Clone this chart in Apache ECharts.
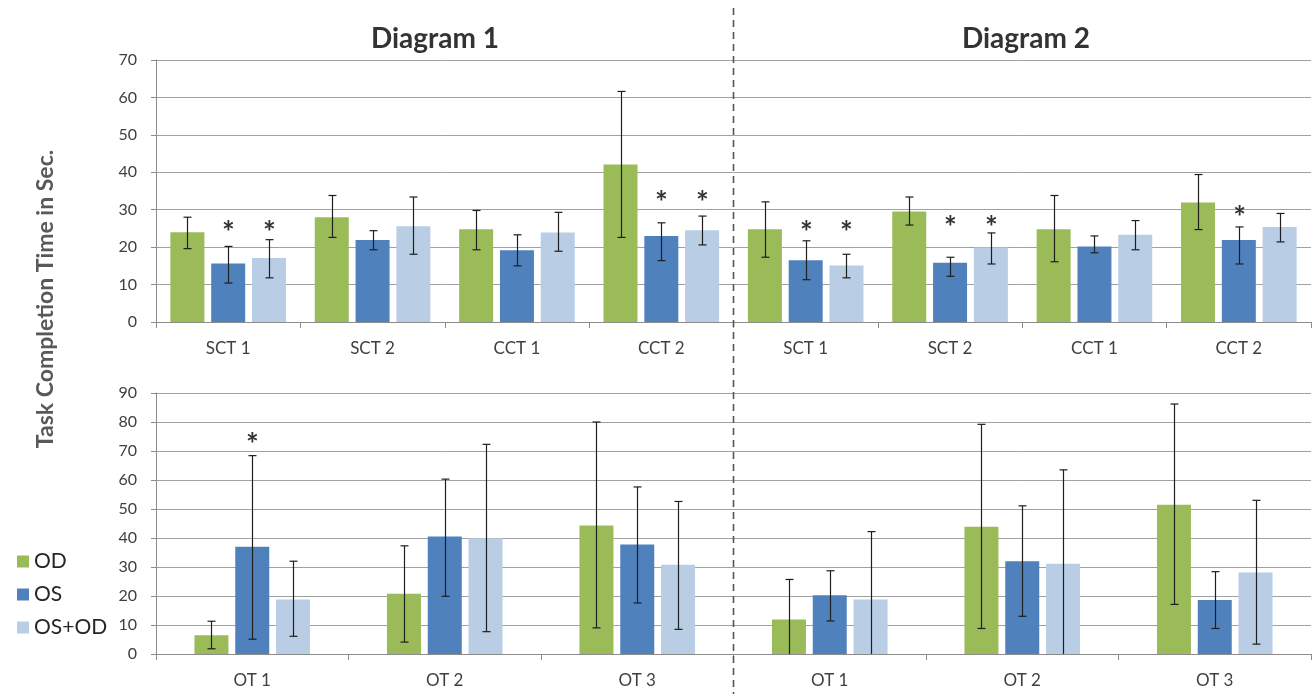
<!DOCTYPE html>
<html>
<head>
<meta charset="utf-8">
<script src="https://cdn.jsdelivr.net/npm/echarts@6/dist/echarts.min.js"></script>
<style>
html,body{margin:0;padding:0;background:#fff;}
#chart{width:1315px;height:696px;}
</style>
</head>
<body>
<div id="chart"></div>
<script>
// ---------- DATA ----------
const seriesNames = ['OD', 'OS', 'OS+OD'];
const seriesColors = ['#9BBB59', '#4F81BD', '#B9CDE5'];

const topCategories = ['SCT 1', 'SCT 2', 'CCT 1', 'CCT 2', 'SCT 1', 'SCT 2', 'CCT 1', 'CCT 2'];
const topYTicks = [0, 10, 20, 30, 40, 50, 60, 70];
const topOD      = [24.0, 28.0, 24.8, 42.1, 24.8, 29.5, 24.8, 31.9];
const topODHigh  = [28.0, 33.8, 29.8, 61.6, 32.1, 33.4, 33.8, 39.4];
const topODLow   = [19.6, 22.6, 19.3, 22.6, 17.3, 25.9, 16.1, 24.7];
const topOS      = [15.6, 21.9, 19.2, 23.0, 16.5, 15.8, 20.2, 21.9];
const topOSHigh  = [20.2, 24.4, 23.3, 26.5, 21.7, 17.3, 23.0, 25.4];
const topOSLow   = [10.4, 19.3, 15.0, 16.4, 11.3, 12.2, 18.5, 15.5];
const topOSOD     = [17.1, 25.6, 23.9, 24.5, 15.1, 19.9, 23.3, 25.4];
const topOSODHigh = [22.0, 33.4, 29.3, 28.3, 18.1, 23.8, 27.1, 29.0];
const topOSODLow  = [11.8, 18.1, 18.9, 20.6, 11.8, 15.5, 19.3, 21.4];
// significance marks (asterisk height in data units, null = none)
const topODStar   = [null, null, null, null, null, null, null, null];
const topOSStar   = [25.5, null, null, 33.5, 25.5, 27.0, null, 29.5];
const topOSODStar = [25.5, null, null, 33.5, 25.5, 27.0, null, null];

const botCategories = ['OT 1', 'OT 2', 'OT 3', 'OT 1', 'OT 2', 'OT 3'];
const botYTicks = [0, 10, 20, 30, 40, 50, 60, 70, 80, 90];
const botOD      = [6.5, 20.8, 44.3, 11.9, 43.9, 51.5];
const botODHigh  = [11.3, 37.3, 80.0, 25.7, 79.2, 86.2];
const botODLow   = [1.8, 4.1, 9.0, 0, 8.8, 17.1];
const botOS      = [37.0, 40.5, 37.8, 20.3, 32.0, 18.6];
const botOSHigh  = [68.4, 60.3, 57.6, 28.7, 51.1, 28.4];
const botOSLow   = [5.1, 19.9, 17.6, 11.4, 13.0, 8.8];
const botOSOD     = [18.8, 39.9, 30.8, 18.8, 31.1, 28.1];
const botOSODHigh = [32.0, 72.3, 52.6, 42.2, 63.5, 53.0];
const botOSODLow  = [6.1, 7.7, 8.5, 0, 0, 3.4];
const botODStar   = [null, null, null, null, null, null];
const botOSStar   = [74.3, null, null, null, null, null];
const botOSODStar = [null, null, null, null, null, null];

const diagramTitles = ['Diagram 1', 'Diagram 2'];
const yAxisTitle = 'Task Completion Time in Sec.';

// ---------- CHART ----------
const FONT = 'Lato';
const BAR_W = 34;
const BAR_GAP = 0.2;
const chart = echarts.init(document.getElementById('chart'), null, {renderer: 'canvas'});

function barSeries(name, color, data, gi) {
  return {
    name: name, type: 'bar', xAxisIndex: gi, yAxisIndex: gi,
    data: data, barWidth: BAR_W, barGap: (BAR_GAP * 100) + '%',
    itemStyle: {color: color}, z: 2, animation: false
  };
}
function errSeries(k, mean, hi, lo, star, gi) {
  const data = mean.map((m, i) => [i, lo[i], hi[i], star[i] == null ? NaN : star[i]]);
  return {
    type: 'custom', xAxisIndex: gi, yAxisIndex: gi, z: 5, animation: false,
    silent: true, clip: false,
    encode: {x: 0, y: [1, 2]},
    data: data,
    renderItem: function (params, api) {
      const idx = api.value(0);
      const off = (k - 1) * BAR_W * (1 + BAR_GAP);
      const pHi = api.coord([idx, api.value(2)]);
      const pLo = api.coord([idx, api.value(1)]);
      const x = Math.round(pHi[0] + off) + 0.5;
      const cap = 4;
      const st = {stroke: '#1e1e1e', lineWidth: 1.2};
      const children = [
        {type: 'line', shape: {x1: x, y1: pHi[1], x2: x, y2: pLo[1]}, style: st},
        {type: 'line', shape: {x1: x - cap, y1: pHi[1], x2: x + cap, y2: pHi[1]}, style: st}
      ];
      if (api.value(1) > 0) {
        children.push({type: 'line', shape: {x1: x - cap, y1: pLo[1], x2: x + cap, y2: pLo[1]}, style: st});
      }
      const sv = api.value(3);
      if (!isNaN(sv)) {
        const ps = api.coord([idx, sv]);
        children.push({type: 'text', x: x, y: ps[1] + 7,
          style: {text: '*', fill: '#333', font: 'bold 30px ' + FONT, align: 'center', verticalAlign: 'middle'}});
      }
      return {type: 'group', children: children};
    }
  };
}

const axisLabelStyle = {color: '#404040', fontSize: 16, fontFamily: FONT};
function xAxis(cats, gi) {
  return {
    type: 'category', gridIndex: gi, data: cats,
    axisLine: {lineStyle: {color: '#8c8c8c', width: 1}},
    axisTick: {show: true, length: 6, lineStyle: {color: '#8c8c8c'}},
    axisLabel: Object.assign({margin: 18}, axisLabelStyle, {fontSize: 17}),
    splitLine: {show: false}
  };
}
function yAxis(max, gi) {
  return {
    type: 'value', gridIndex: gi, min: 0, max: max, interval: 10,
    axisLine: {show: true, lineStyle: {color: '#8c8c8c'}},
    axisTick: {show: true, length: 5, lineStyle: {color: '#8c8c8c'}},
    axisLabel: Object.assign({margin: 19}, axisLabelStyle),
    splitLine: {lineStyle: {color: '#a0a0a0', width: 1}}
  };
}

const series = [
  barSeries(seriesNames[0], seriesColors[0], topOD, 0),
  barSeries(seriesNames[1], seriesColors[1], topOS, 0),
  barSeries(seriesNames[2], seriesColors[2], topOSOD, 0),
  errSeries(0, topOD, topODHigh, topODLow, topODStar, 0),
  errSeries(1, topOS, topOSHigh, topOSLow, topOSStar, 0),
  errSeries(2, topOSOD, topOSODHigh, topOSODLow, topOSODStar, 0),
  barSeries(seriesNames[0], seriesColors[0], botOD, 1),
  barSeries(seriesNames[1], seriesColors[1], botOS, 1),
  barSeries(seriesNames[2], seriesColors[2], botOSOD, 1),
  errSeries(0, botOD, botODHigh, botODLow, botODStar, 1),
  errSeries(1, botOS, botOSHigh, botOSLow, botOSStar, 1),
  errSeries(2, botOSOD, botOSODHigh, botOSODLow, botOSODStar, 1)
];

chart.setOption({
  backgroundColor: '#ffffff',
  animation: false,
  textStyle: {fontFamily: FONT},
  title: [
    {text: diagramTitles[0], left: 430, top: 20, textAlign: 'center',
     textStyle: {fontSize: 28, fontWeight: 'bold', color: '#333', fontFamily: FONT}},
    {text: diagramTitles[1], left: 1021, top: 20, textAlign: 'center',
     textStyle: {fontSize: 28, fontWeight: 'bold', color: '#333', fontFamily: FONT}}
  ],
  legend: {
    orient: 'vertical', left: 12, top: 546,
    data: seriesNames, icon: 'rect', itemWidth: 12, itemHeight: 12, itemGap: 12,
    textStyle: {fontSize: 21, color: '#262626', fontFamily: FONT}
  },
  grid: [
    {left: 156, right: 4, top: 60, height: 262},
    {left: 156, right: 4, top: 393, height: 261}
  ],
  xAxis: [xAxis(topCategories, 0), xAxis(botCategories, 1)],
  yAxis: [yAxis(topYTicks[topYTicks.length - 1], 0), yAxis(botYTicks[botYTicks.length - 1], 1)],
  series: series,
  graphic: [
    {type: 'line', z: 100, shape: {x1: 733.5, y1: 8, x2: 733.5, y2: 694},
     style: {stroke: '#555', lineWidth: 1.6, lineDash: [7, 5]}},
    {type: 'text', z: 100, x: 46, y: 299, rotation: Math.PI / 2,
     style: {text: yAxisTitle, font: 'bold 23px ' + FONT, fill: '#595959', align: 'center', verticalAlign: 'middle'}}
  ]
});
</script>
</body>
</html>
